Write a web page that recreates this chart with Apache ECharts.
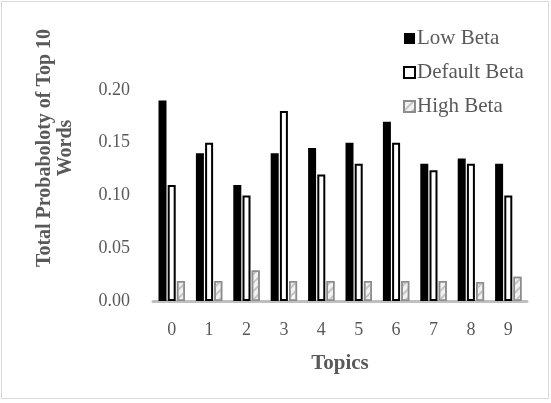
<!DOCTYPE html>
<html>
<head>
<meta charset="utf-8">
<script src="https://cdn.jsdelivr.net/npm/echarts@6/dist/echarts.min.js"></script>
<style>
  html, body { margin: 0; padding: 0; background: #fff; }
  #chart { width: 551px; height: 403px; }
</style>
</head>
<body>
<div id="chart"></div>
<script>
// Topic labels along the x axis
const topics = ['0', '1', '2', '3', '4', '5', '6', '7', '8', '9'];

// Total probability of the top 10 words per topic, one array per beta setting
const lowBeta = [0.19, 0.14, 0.11, 0.14, 0.145, 0.15, 0.17, 0.13, 0.135, 0.13];
const defaultBeta = [0.11, 0.15, 0.10, 0.18, 0.12, 0.13, 0.15, 0.124, 0.13, 0.10];
const highBeta = [0.019, 0.019, 0.029, 0.019, 0.019, 0.019, 0.019, 0.019, 0.018, 0.023];

// Value axis ticks
const yMin = 0, yMax = 0.20, yStep = 0.05;

const FONT = '"Liberation Serif", "Times New Roman", serif';
const GREY_TEXT = '#595959';

const chart = echarts.init(document.getElementById('chart'), null, { renderer: 'canvas' });

const barBase = { type: 'bar', barWidth: 8, barGap: '15%', barCategoryGap: '28%' };

chart.setOption({
  backgroundColor: '#ffffff',
  animation: false,
  textStyle: { fontFamily: FONT },
  graphic: [
    {
      // chart-area frame
      type: 'rect',
      shape: { x: 1.5, y: 1.5, width: 547, height: 397 },
      style: { fill: 'none', stroke: '#d9d9d9', lineWidth: 1 },
      silent: true
    },
    {
      // value-axis title, two lines, rotated
      type: 'text',
      x: 55,
      y: 148,
      rotation: Math.PI / 2,
      style: {
        text: 'Total Probaboloty of Top 10\nWords',
        font: 'bold 20px ' + FONT,
        fill: GREY_TEXT,
        align: 'center',
        verticalAlign: 'middle',
        lineHeight: 21
      },
      silent: true
    }
  ],
  grid: { left: 153, right: 24, top: 90, bottom: 102, containLabel: false },
  legend: {
    orient: 'vertical',
    left: 398,
    top: 22,
    icon: 'rect',
    itemWidth: 11,
    itemHeight: 11,
    itemGap: 11,
    textStyle: { fontFamily: FONT, fontSize: 21, color: GREY_TEXT, lineHeight: 23, padding: [0, 0, 0, -3] },
    data: ['Low Beta', 'Default Beta', 'High Beta']
  },
  xAxis: {
    type: 'category',
    data: topics,
    name: 'Topics',
    nameLocation: 'middle',
    nameGap: 52,
    nameTextStyle: { fontFamily: FONT, fontSize: 21, fontWeight: 'bold', color: GREY_TEXT },
    axisLine: { show: true, lineStyle: { color: '#bfbfbf', width: 3 } },
    axisTick: { show: false },
    axisLabel: { fontFamily: FONT, fontSize: 18, color: GREY_TEXT, margin: 20 },
    splitLine: { show: false }
  },
  yAxis: {
    type: 'value',
    min: yMin,
    max: yMax,
    interval: yStep,
    axisLine: { show: false },
    axisTick: { show: false },
    splitLine: { show: false },
    axisLabel: {
      fontFamily: FONT, fontSize: 18, color: GREY_TEXT, margin: 23,
      formatter: v => v.toFixed(2)
    }
  },
  series: [
    Object.assign({}, barBase, {
      name: 'Low Beta',
      data: lowBeta,
      itemStyle: { color: '#000000', borderColor: '#000000', borderWidth: 0 }
    }),
    Object.assign({}, barBase, {
      name: 'Default Beta',
      data: defaultBeta,
      itemStyle: { color: '#ffffff', borderColor: '#000000', borderWidth: 2 }
    }),
    Object.assign({}, barBase, {
      name: 'High Beta',
      data: highBeta,
      itemStyle: {
        color: '#f2f2f2',
        borderColor: '#8c8c8c',
        borderWidth: 1.5,
        decal: {
          symbol: 'rect',
          color: '#c4c4c4',
          dashArrayX: [1, 0],
          dashArrayY: [2, 4],
          rotation: -Math.PI / 4
        }
      }
    })
  ]
});
</script>
</body>
</html>
